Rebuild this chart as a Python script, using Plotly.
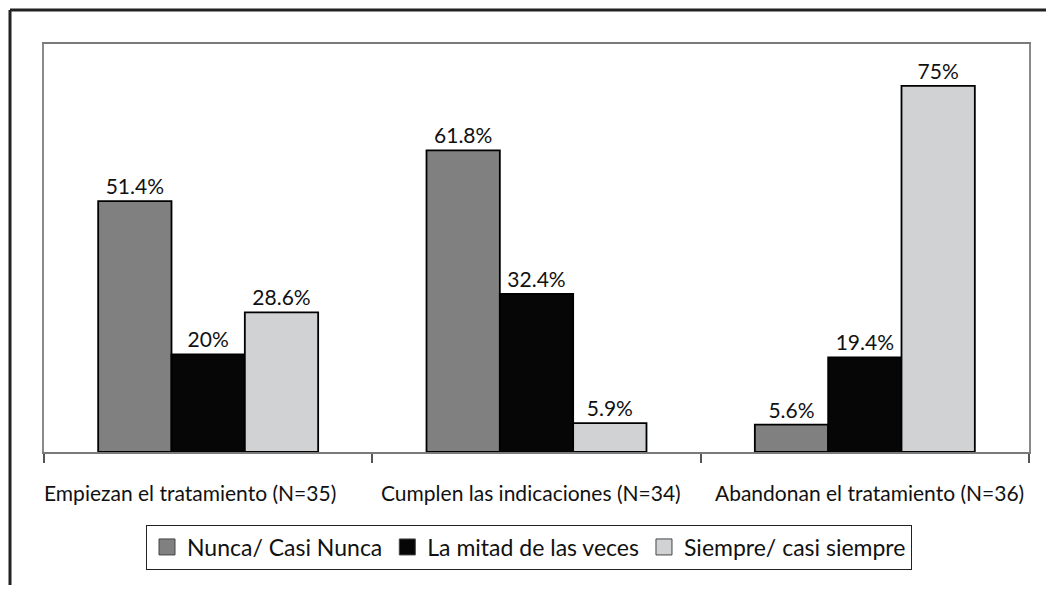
import plotly.graph_objects as go

categories = ["Empiezan el tratamiento (N=35)", "Cumplen las indicaciones (N=34)", "Abandonan el tratamiento (N=36)"]
series_names = ["Nunca/ Casi Nunca", "La mitad de las veces", "Siempre/ casi siempre"]
nunca = [51.4, 61.8, 5.6]
mitad = [20, 32.4, 19.4]
siempre = [28.6, 5.9, 75]
labels_nunca = ["51.4%", "61.8%", "5.6%"]
labels_mitad = ["20%", "32.4%", "19.4%"]
labels_siempre = ["28.6%", "5.9%", "75%"]

colors = ["#808080", "#060606", "#d1d2d4"]
label_shift = [-18, -6, 5]
FONT = "Lato"

OFF = 8  # page body margin
x = list(range(len(categories)))
fig = go.Figure()
for name, vals, labs, col in zip(series_names, [nunca, mitad, siempre],
                                 [labels_nunca, labels_mitad, labels_siempre], colors):
    fig.add_trace(go.Bar(
        x=x, y=vals, name=name, text=labs, textposition="outside",
        textfont=dict(family=FONT, size=21, color="#111"),
        marker=dict(color=col, line=dict(color="#000", width=1.8)),
        cliponaxis=False, showlegend=False,
    ))
# legend entries with larger square symbols
for name, col in zip(series_names, colors):
    fig.add_trace(go.Scatter(
        x=[None], y=[None], mode="markers", name=name,
        marker=dict(symbol="square", size=19, color=col, line=dict(color="#444", width=1)),
    ))

# page coordinates of the plot area
L, T, R, B = 44, 44, 1029, 452
W, H = 1054 - 2 * OFF, 593 - 2 * OFF
pw, ph = R - L, B - T

def px(xp):
    return (xp - L) / pw

def py(yp):
    return (B - yp) / ph

fig.update_layout(
    width=W, height=H,
    margin=dict(l=L - OFF, r=(1054 - OFF) - R, t=T - OFF, b=(593 - OFF) - B, pad=0),
    paper_bgcolor="white", plot_bgcolor="white",
    barmode="group", bargap=0.33, bargroupgap=0,
    font=dict(family=FONT, size=21, color="#111"),
    showlegend=True,
    legend=dict(orientation="h", x=px(529), xanchor="center", y=py(547), yanchor="middle",
                bordercolor="#222", borderwidth=1, font=dict(family=FONT, size=23, color="#111"),
                itemwidth=30, tracegroupgap=0, traceorder="normal"),
    xaxis=dict(range=[-0.5, 2.5], tickvals=[], showticklabels=False,
               ticks="", showgrid=False, zeroline=False,
               showline=True, linecolor="#7a7a7a", linewidth=2, mirror=True,
               minor=dict(tick0=-0.5, dtick=1, ticks="outside", ticklen=9, tickcolor="#555", tickwidth=1.5)),
    yaxis=dict(range=[0, 83.6], showticklabels=False, ticks="", showgrid=False, zeroline=False,
               showline=True, linecolor="#8a8a8a", linewidth=2, mirror=True),
)

for i, (cat, sh) in enumerate(zip(categories, label_shift)):
    fig.add_annotation(x=i, xref="x", y=py(492), yref="paper", text=cat, showarrow=False,
                       xshift=sh, xanchor="center", yanchor="middle",
                       font=dict(family=FONT, size=21, color="#111"))

# outer frame (top and left lines)
fig.add_shape(type="line", xref="paper", yref="paper", x0=px(10), x1=px(1054), y0=py(10), y1=py(10),
              line=dict(color="#222", width=3))
fig.add_shape(type="line", xref="paper", yref="paper", x0=px(10), x1=px(10), y0=py(10), y1=py(593),
              line=dict(color="#222", width=3))

fig.write_html("out.html")
